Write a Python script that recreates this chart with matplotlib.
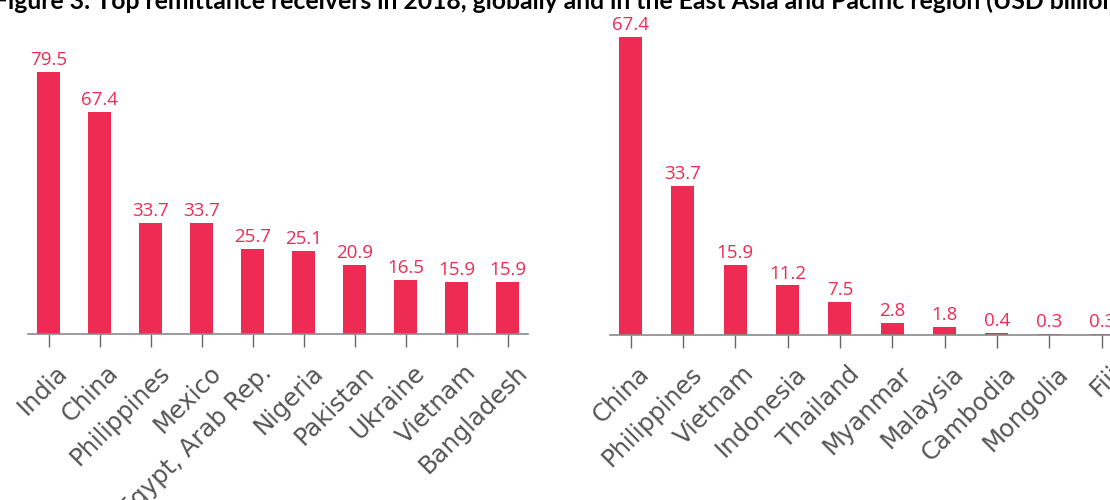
import matplotlib
matplotlib.use("Agg")
import matplotlib.pyplot as plt
from matplotlib.transforms import ScaledTranslation

# ---- data ----
global_countries = ["India", "China", "Philippines", "Mexico", "Egypt, Arab Rep.",
                    "Nigeria", "Pakistan", "Ukraine", "Vietnam", "Bangladesh"]
global_values = [79.5, 67.4, 33.7, 33.7, 25.7, 25.1, 20.9, 16.5, 15.9, 15.9]

eap_countries = ["China", "Philippines", "Vietnam", "Indonesia", "Thailand",
                 "Myanmar", "Malaysia", "Cambodia", "Mongolia", "Fiji"]
eap_values = [67.4, 33.7, 15.9, 11.2, 7.5, 2.8, 1.8, 0.4, 0.3, 0.3]

title = ("Figure 3: Top remittance receivers in 2018, globally and in the "
         "East Asia and Pacific region (USD billion)")

# ---- style ----
W, H = 1110, 500
BAR = "#EE2B53"
LBL = "#EE2B53"
AX = "#8a8a8a"
TICKLBL = "#555555"

fig = plt.figure(figsize=(W / 100, H / 100), dpi=100)


def px_axes(left, right, base, height):
    return fig.add_axes([left / W, (H - base) / H, (right - left) / W, height / H])


def draw(ax, cats, vals, x0px, step, left, right, ymax, barw):
    xs = list(range(len(cats)))
    ax.bar(xs, vals, width=barw, color=BAR, zorder=2)
    ax.set_xlim((left - x0px) / step, (right - x0px) / step)
    ax.set_ylim(0, ymax)
    for s in ["top", "right", "left"]:
        ax.spines[s].set_visible(False)
    ax.spines["bottom"].set_color(AX)
    ax.spines["bottom"].set_linewidth(1.2)
    ax.set_yticks([])
    ax.set_xticks(xs)
    labels = ax.set_xticklabels(cats, rotation=45, ha="right", va="top",
                                rotation_mode="anchor", fontsize=17.5,
                                color=TICKLBL, family="DejaVu Sans")
    ax.tick_params(axis="x", length=9, width=1.0, color="#666666", pad=10)
    shift = ScaledTranslation(7 / 100, 0, fig.dpi_scale_trans)
    for lab in labels:
        lab.set_transform(lab.get_transform() + shift)
    for x, v in zip(xs, vals):
        ax.annotate(f"{v:.1f}", (x, v), xytext=(0, 5), textcoords="offset points",
                    ha="center", va="baseline", fontsize=13.5, color=LBL,
                    family="Open Sans", annotation_clip=False)


ax1 = px_axes(28, 528, 334, 100 * 3.296)
draw(ax1, global_countries, global_values, 48.5, 51.05, 28, 528, 100, 0.45)

ax2 = px_axes(610, 1122, 335, 75 * 4.42)
draw(ax2, eap_countries, eap_values, 630.5, 52.35, 610, 1122, 75, 0.44)

fig.text(-6 / W, 1 - 9 / H, title, ha="left", va="baseline",
         fontsize=17.8, fontweight="bold", color="black", family="Lato")

fig.savefig("out.png", dpi=100)
